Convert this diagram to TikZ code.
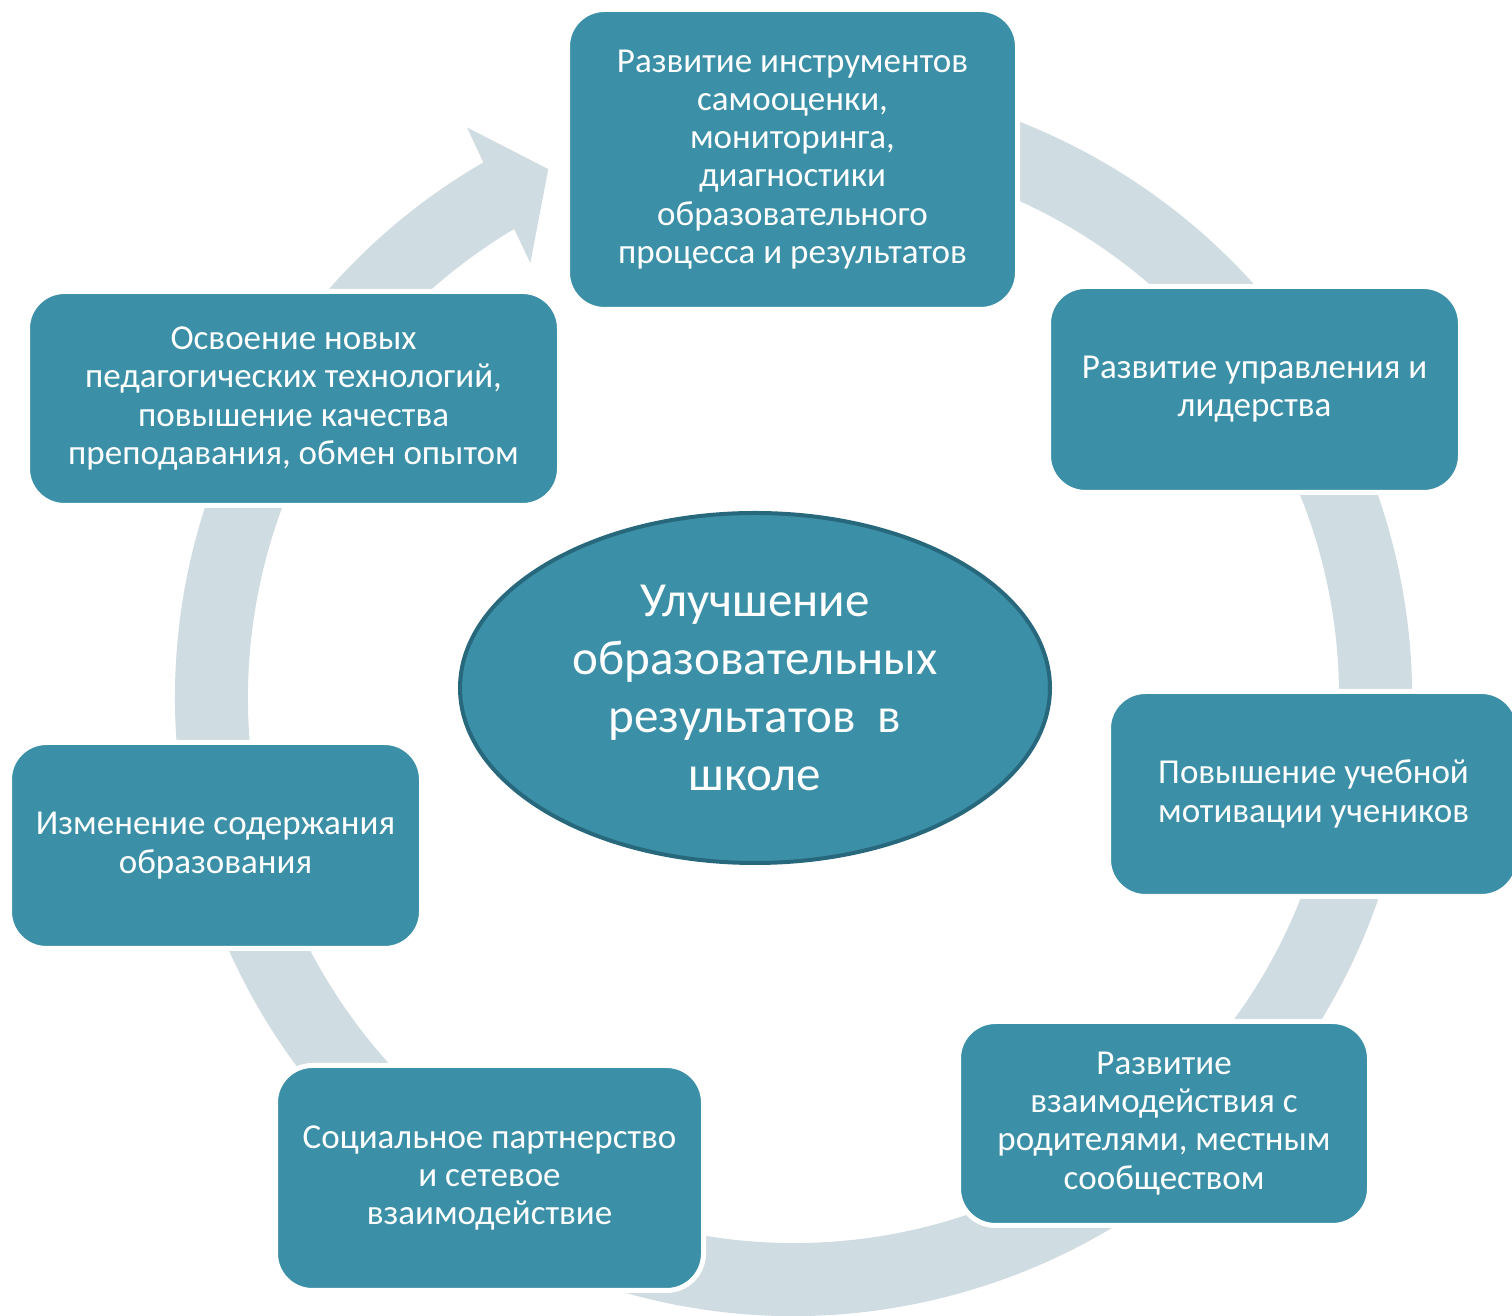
\documentclass[tikz,border=0pt]{standalone}
\usepackage{fontspec}
\setmainfont{Carlito}
\usetikzlibrary{shapes.geometric}
\definecolor{teal1}{RGB}{59,144,167}
\definecolor{tealdark}{RGB}{40,104,124}
\definecolor{ringc}{RGB}{207,220,226}
\tikzset{
  cyclebox/.style={draw=white, line width=5pt, fill=teal1, rounded corners=37pt,
    text=white, align=center, inner sep=0pt,
    font=\fontsize{35}{38.2}\selectfont},
  hub/.style={ellipse, draw=tealdark, line width=4pt, fill=teal1, text=white,
    align=center, inner sep=0pt, font=\fontsize{49}{58}\selectfont},
  ring/.style={fill=ringc, draw=none}
}
\begin{document}
\begin{tikzpicture}[x=1pt,y=1pt]
\path[use as bounding box, clip] (0,0) rectangle (1512,1316);
\coordinate (C) at (793.5,618.5);
% continuous circular arrow
\begin{scope}[shift={(C)}]
\fill[ring] (105:618.5) arc[start angle=105, end angle=-239.9, radius=618.5]
  -- (119.8:657) -- (114.9:582.5) -- (121.2:508) -- (-239.2:545.5)
  arc[start angle=-239.2, end angle=105, radius=545.5] -- cycle;
\end{scope}
% boxes
\node[cyclebox, minimum width=450pt, minimum height=300pt] (b1) at (792.5,1156.5)
  {Развитие инструментов\\самооценки,\\мониторинга,\\диагностики\\образовательного\\процесса и результатов};
\node[cyclebox, minimum width=412pt, minimum height=206pt] (b2) at (1254.5,926.5)
  {Развитие управления и\\лидерства};
\node[cyclebox, minimum width=410pt, minimum height=205pt] (b3) at (1313.5,522)
  {Повышение учебной\\мотивации учеников};
\node[cyclebox, minimum width=411pt, minimum height=204pt] (b4) at (1164,192.5)
  {Развитие\\взаимодействия с\\родителями, местным\\сообществом};
\node[cyclebox, minimum width=428pt, minimum height=225pt] (b5) at (489.5,138)
  {Социальное партнерство\\и сетевое\\взаимодействие};
\node[cyclebox, minimum width=412pt, minimum height=206pt] (b6) at (215.5,470.5)
  {Изменение содержания\\образования};
\node[cyclebox, minimum width=532pt, minimum height=214pt] (b7) at (293.5,917.5)
  {Освоение новых\\педагогических технологий,\\повышение качества\\преподавания, обмен опытом};
% hub
\node[hub, minimum width=590pt, minimum height=350pt] (hub) at (755,628)
  {Улучшение\\образовательных\\результатов\ \ в\\школе};
\end{tikzpicture}
\end{document}
